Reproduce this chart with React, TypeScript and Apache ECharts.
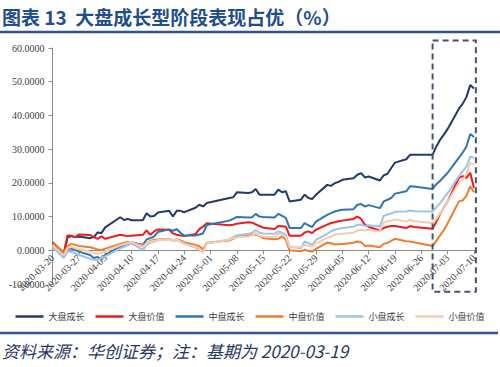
import React, { useEffect, useRef } from "react";
import * as echarts from "echarts";

const dates = [
  "2020-03-20", "2020-03-23", "2020-03-24", "2020-03-25", "2020-03-26", "2020-03-27", "2020-03-30", "2020-03-31",
  "2020-04-01", "2020-04-02", "2020-04-03", "2020-04-07", "2020-04-08", "2020-04-09", "2020-04-10", "2020-04-13",
  "2020-04-14", "2020-04-15", "2020-04-16", "2020-04-17", "2020-04-20", "2020-04-21", "2020-04-22", "2020-04-23",
  "2020-04-24", "2020-04-27", "2020-04-28", "2020-04-29", "2020-04-30", "2020-05-06", "2020-05-07", "2020-05-08",
  "2020-05-11", "2020-05-12", "2020-05-13", "2020-05-14", "2020-05-15", "2020-05-18", "2020-05-19", "2020-05-20",
  "2020-05-21", "2020-05-22", "2020-05-25", "2020-05-26", "2020-05-27", "2020-05-28", "2020-05-29", "2020-06-01",
  "2020-06-02", "2020-06-03", "2020-06-04", "2020-06-05", "2020-06-08", "2020-06-09", "2020-06-10", "2020-06-11",
  "2020-06-12", "2020-06-15", "2020-06-16", "2020-06-17", "2020-06-18", "2020-06-19", "2020-06-22", "2020-06-23",
  "2020-06-24", "2020-06-29", "2020-06-30", "2020-07-01", "2020-07-02", "2020-07-03", "2020-07-06", "2020-07-07",
  "2020-07-08", "2020-07-09", "2020-07-10",
];

const largeGrowth = [
  2.3, -1.0, 3.8, 4.2, 3.9, 4.1, 3.6, 3.9, 5.3, 5.1, 6.8,
  9.8, 9.0, 9.3, 8.9, 8.9, 11.0, 10.0, 10.2, 11.2,
  11.7, 10.0, 11.7, 11.7, 11.3, 12.6, 13.5, 13.0, 14.0,
  15.5, 15.7, 17.2, 17.0, 17.2, 18.2, 16.5, 16.5, 16.5, 18.0, 17.2, 17.5,
  14.5, 15.0, 16.5, 15.5, 15.2, 16.5,
  19.4, 19.1, 19.9, 20.3, 20.9, 21.4, 22.4, 22.9, 21.6, 21.9,
  20.7, 22.2, 22.7, 24.4, 26.0, 27.0, 28.3, 28.3, 28.3,
  30.8, 32.8, 34.3, 36.0, 42.0, 43.5, 45.5, 49.0, 48.0,
];
const largeValue = [
  2.4, -0.8, 4.4, 4.3, 3.9, 4.7, 4.5, 3.9, 3.4, 4.1, 3.4,
  4.6, 4.4, 4.2, 4.3, 4.6, 5.9, 4.6, 5.6, 6.2,
  6.1, 5.0, 4.6, 4.4, 4.2, 4.8, 6.3, 7.0, 8.0,
  7.4, 7.6, 7.9, 8.3, 8.2, 7.7, 7.2, 6.7, 6.3, 7.2, 7.1, 7.0,
  4.3, 4.3, 5.3, 5.6, 5.1, 6.1,
  7.6, 8.1, 8.3, 8.6, 8.8, 9.3, 10.0, 9.3, 7.6, 7.0,
  5.8, 6.6, 7.0, 7.2, 7.2, 6.6, 7.2, 6.9, 6.4,
  8.5, 10.8, 12.8, 14.5, 21.5, 22.0, 21.5, 23.0, 18.5,
];
const midGrowth = [
  1.8, -1.3, 0.4, 0.6, 0.1, -0.4, -1.4, -2.3, -2.0, -2.8, -1.3,
  1.0, 1.2, 1.6, 2.4, 1.6, 3.2, 3.6, 4.1, 5.4,
  6.2, 5.8, 6.3, 5.2, 4.4, 4.4, 4.7, 5.0, 7.5,
  8.8, 9.3, 9.9, 9.7, 9.8, 10.8, 10.0, 9.9, 9.7, 10.8, 10.2, 9.6,
  6.6, 6.6, 8.1, 7.4, 6.9, 8.5,
  10.5, 11.0, 11.5, 11.8, 12.0, 12.2, 13.5, 13.7, 13.0, 13.4,
  12.5, 14.5, 15.0, 15.5, 16.8, 17.5, 19.0, 18.9, 18.2,
  19.6, 20.6, 21.8, 23.0, 27.5, 29.0, 30.8, 34.5, 33.6,
];
const midValue = [
  2.0, -0.6, 1.2, 1.9, 1.6, 1.3, 0.9, 0.6, 0.2, 0.1, 0.5,
  1.9, 2.2, 2.5, 2.0, 1.6, 2.0, 2.8, 3.1, 3.2,
  3.4, 2.9, 3.3, 2.9, 2.4, 1.6, 1.2, 0.3, 2.2,
  2.9, 3.4, 4.1, 4.6, 4.5, 4.7, 4.2, 3.6, 3.3, 3.4, 4.1, 3.1,
  0.0, -0.3, 0.2, -0.2, -0.4, 0.4,
  2.3, 2.1, 1.7, 1.8, 1.9, 2.2, 2.6, 2.4, 1.3, 1.4,
  0.9, 1.9, 2.2, 2.8, 3.4, 2.7, 2.6, 2.4, 1.3,
  2.8, 4.5, 6.0, 8.0, 14.5, 14.8, 16.2, 19.0, 17.2,
];
const smallGrowth = [
  1.0, -2.3, -0.3, -0.5, -0.8, -1.4, -2.5, -2.8, -2.8, -2.4, -1.8,
  0.6, 1.0, 1.6, 2.1, 0.1, 1.6, 2.3, 2.6, 3.0,
  3.3, 2.9, 3.0, 2.6, 2.0, 0.8, 0.1, -0.4, 2.0,
  3.2, 3.9, 4.4, 4.9, 5.1, 6.0, 5.2, 5.0, 4.9, 5.6, 5.2, 4.6,
  1.1, 0.6, 2.6, 2.1, 1.6, 3.1,
  4.9, 5.6, 6.1, 6.4, 6.6, 7.0, 7.6, 7.6, 7.2, 7.4,
  7.1, 10.2, 10.6, 10.9, 11.4, 11.5, 11.8, 11.6, 11.5,
  12.8, 14.0, 15.5, 17.0, 22.0, 23.5, 24.8, 27.8, 27.4,
];
const smallValue = [
  1.5, -1.5, 0.6, 1.0, 0.6, 0.3, -0.4, -0.8, -1.0, -0.9, -0.3,
  1.5, 1.8, 2.2, 2.4, 1.0, 2.0, 2.6, 2.8, 3.0,
  3.3, 3.0, 3.2, 2.6, 1.9, 1.0, 0.4, -0.8, 2.1,
  3.1, 3.6, 3.9, 4.1, 4.3, 5.1, 4.3, 4.1, 3.9, 4.9, 4.5, 3.9,
  0.9, 0.9, 1.6, 1.3, 1.1, 2.1,
  3.6, 4.1, 4.6, 4.8, 4.9, 5.2, 5.9, 6.1, 5.9, 6.1,
  5.6, 8.3, 8.6, 8.8, 9.1, 8.5, 9.1, 8.6, 8.1,
  9.3, 11.0, 12.8, 14.5, 20.0, 21.0, 22.5, 25.9, 25.4,
];

const seriesNames = ["大盘成长", "大盘价值", "中盘成长", "中盘价值", "小盘成长", "小盘价值"];
const seriesValues = [largeGrowth, largeValue, midGrowth, midValue, smallGrowth, smallValue];
const seriesColors = ["#1F3B6B", "#F01A1A", "#2E75B6", "#ED7D31", "#9DC3E6", "#F8CBAD"];

const yTicks = { min: -10, max: 60, step: 10 };
const highlightStart = "2020-06-29";
const startDate = dates[0];
const endDate = dates[dates.length - 1];

const DAY = 86400000;
const dayIndex = (d: string) => (Date.parse(d) - Date.parse(startDate)) / DAY;
const dayLabel = (v: number) => new Date(Date.parse(startDate) + v * DAY).toISOString().slice(0, 10);

const GRID = { left: 52.5, right: 26, top: 48, bottom: 83 };
const CHART_H = 367;

export default function App() {
  const ref = useRef<HTMLDivElement>(null);
  useEffect(() => {
    if (!ref.current) return;
    const chart = echarts.init(ref.current, undefined, { renderer: "svg" });
    const axisColor = "#8C8C8C";
    const labelColor = "#404040";
    const gridH = CHART_H - GRID.top - GRID.bottom;
    const zeroOffset = ((0 - yTicks.min) / (yTicks.max - yTicks.min)) * gridH;
    const option: any = {
      animation: false,
      grid: { ...GRID, containLabel: false },
      legend: {
        top: 307,
        left: "center",
        icon: "rect",
        itemWidth: 28,
        itemHeight: 2.5,
        itemGap: 11,
        textStyle: { fontSize: 9, color: labelColor, fontFamily: "Noto Sans CJK SC" },
        data: seriesNames,
      },
      xAxis: {
        type: "value",
        position: "bottom",
        offset: -zeroOffset,
        min: 0,
        max: dayIndex(endDate),
        interval: 7,
        axisLine: { show: true, onZero: false, lineStyle: { color: axisColor, width: 1 } },
        axisTick: { show: true, length: 4, lineStyle: { color: axisColor } },
        splitLine: { show: false },
        axisLabel: {
          rotate: 45,
          margin: 6,
          fontSize: 10,
          color: labelColor,
          fontFamily: "Liberation Serif",
          formatter: (v: number) => dayLabel(v),
        },
      },
      yAxis: {
        type: "value",
        min: yTicks.min,
        max: yTicks.max,
        interval: yTicks.step,
        axisLine: { show: true, lineStyle: { color: axisColor, width: 1 } },
        axisTick: { show: true, length: 4, lineStyle: { color: axisColor } },
        splitLine: { show: false },
        axisLabel: {
          fontSize: 10,
          margin: 8,
          color: labelColor,
          fontFamily: "Liberation Serif",
          formatter: (v: number) => v.toFixed(4),
        },
      },
      series: seriesNames.map((name, si) => ({
        name,
        type: "line",
        symbol: "none",
        showSymbol: false,
        lineStyle: { width: 2, color: seriesColors[si] },
        itemStyle: { color: seriesColors[si] },
        data: dates.map((d, i) => [dayIndex(d), seriesValues[si][i]]),
      })),
      graphic: [
        {
          type: "text",
          id: "title",
          left: 2,
          top: 7,
          style: {
            text: "图表 13  大盘成长型阶段表现占优（%）",
            fontSize: 19,
            fontWeight: "bold",
            fontFamily: "Noto Sans CJK SC",
            fill: "#1F4E8C",
          },
        },
        {
          type: "line",
          id: "topRule",
          shape: { x1: 0, y1: 32, x2: 500, y2: 32 },
          style: { stroke: "#2F5597", lineWidth: 2.5 },
        },
        {
          type: "line",
          id: "bottomRule",
          shape: { x1: 0, y1: 333, x2: 498, y2: 333 },
          style: { stroke: "#2F5597", lineWidth: 2.5 },
        },
        {
          type: "text",
          id: "source",
          left: 2,
          top: 342,
          style: {
            text: "资料来源：华创证券；注：基期为 2020-03-19",
            fontSize: 17,
            fontStyle: "italic",
            fontFamily: "Noto Sans CJK SC",
            fill: "#1F3864",
          },
        },
      ],
    };
    chart.setOption(option);
    const p1 = chart.convertToPixel({ gridIndex: 0 }, [dayIndex(highlightStart), 62.2]) as number[];
    const p2 = chart.convertToPixel({ gridIndex: 0 }, [dayIndex(endDate) + 0.5, -12.3]) as number[];
    chart.setOption({
      graphic: [
        {
          type: "rect",
          id: "highlight",
          z: 10,
          shape: { x: p1[0], y: p1[1], width: p2[0] - p1[0], height: p2[1] - p1[1] },
          style: { fill: "none", stroke: "#44546A", lineWidth: 2, lineDash: [6, 4] },
        },
      ],
    });
    return () => chart.dispose();
  }, []);
  return (
    <div
      ref={ref}
      style={{ position: "fixed", left: 0, top: 0, width: 500, height: 367, background: "#fff" }}
    />
  );
}
